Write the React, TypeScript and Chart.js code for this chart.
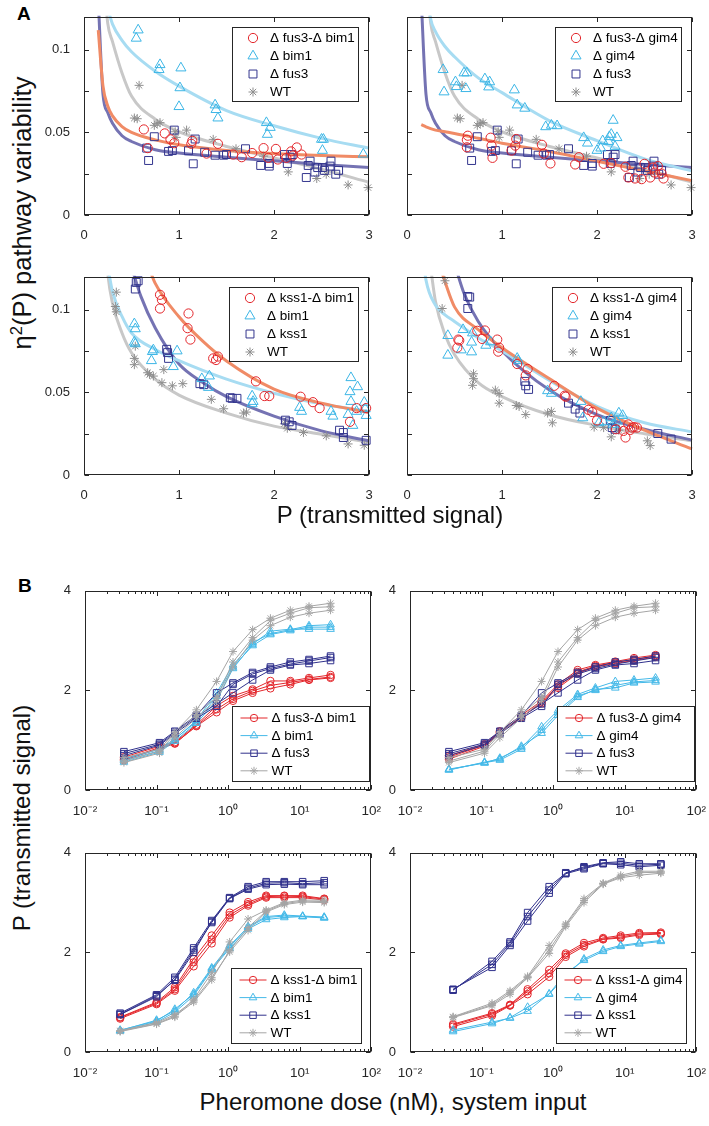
import React, { useEffect, useRef } from "react";
import { Chart, registerables } from "chart.js";

Chart.register(...registerables);

const FONT = '"Liberation Sans", Arial, Helvetica, sans-serif';
const AXIS = "#262626";

// ---------------- Axis ticks / labels ----------------
const A_X_TICKS = [0, 1, 2, 3];
const A_Y_TICKS = [0, 0.025, 0.05, 0.075, 0.1];
const A_Y_TICK_LABELS = ["0", "", "0.05", "", "0.1"];
const B_X_MAJOR = [0.01, 0.1, 1, 10, 100];
const B_X_MAJOR_LABELS = ["10⁻²", "10⁻¹", "10⁰", "10¹", "10²"];
const B_X_MINOR_STEPS = [2, 3, 4, 5, 6, 7, 8, 9];
const B_Y_TICKS = [0, 2, 4];

// ---------------- Legend labels ----------------
const LEG_TL = ["Δ fus3-Δ bim1", "Δ bim1", "Δ fus3", "WT"];
const LEG_TR = ["Δ fus3-Δ gim4", "Δ gim4", "Δ fus3", "WT"];
const LEG_BL = ["Δ kss1-Δ bim1", "Δ bim1", "Δ kss1", "WT"];
const LEG_BR = ["Δ kss1-Δ gim4", "Δ gim4", "Δ kss1", "WT"];

// ---------------- Panel A scatter data ----------------
const A_TL_FB_X = [0.63, 0.67, 0.85, 0.91, 0.95, 1.13, 1.14, 1.29, 1.41, 1.57, 1.66, 1.77, 1.89, 1.94, 2.02, 2.04, 2.13, 2.18, 2.2, 2.24, 2.29];
const A_TL_FB_Y = [0.0518, 0.0405, 0.0494, 0.0458, 0.0435, 0.0431, 0.0449, 0.0372, 0.0431, 0.0366, 0.035, 0.0375, 0.0405, 0.0346, 0.04, 0.0336, 0.0346, 0.0385, 0.036, 0.0409, 0.0366];
const A_TL_B_X = [0.57, 0.55, 0.8, 0.79, 1.02, 1.01, 1.0, 1.38, 1.39, 1.41, 1.92, 1.96, 1.93, 2.5, 2.52, 2.51, 2.94];
const A_TL_B_Y = [0.112, 0.107, 0.091, 0.088, 0.089, 0.077, 0.0656, 0.0666, 0.0638, 0.0587, 0.0559, 0.053, 0.0488, 0.0458, 0.0458, 0.0391, 0.0368];
const A_FUS3_X = [0.66, 0.68, 0.74, 0.89, 0.93, 0.95, 1.1, 1.15, 1.17, 1.27, 1.38, 1.47, 1.5, 1.7, 1.86, 1.95, 1.95, 2.11, 2.14, 2.17, 2.19, 2.34, 2.36, 2.38, 2.43, 2.46, 2.51, 2.53, 2.59, 2.6, 2.65, 2.68];
const A_FUS3_Y = [0.0405, 0.033, 0.0474, 0.0385, 0.039, 0.0514, 0.0389, 0.031, 0.046, 0.038, 0.0362, 0.0362, 0.0366, 0.0401, 0.03, 0.0312, 0.0296, 0.0366, 0.0312, 0.035, 0.0366, 0.0227, 0.03, 0.0326, 0.026, 0.0287, 0.0287, 0.027, 0.0296, 0.0326, 0.0247, 0.027];
const A_WT_TOP_X = [0.58, 0.53, 0.56, 0.74, 0.77, 0.8, 0.96, 0.97, 1.08, 1.36, 1.6, 1.89, 2.15, 2.45, 2.55, 2.78, 2.99];
const A_WT_TOP_Y = [0.0785, 0.0587, 0.0583, 0.0543, 0.0553, 0.0559, 0.0504, 0.047, 0.0514, 0.0458, 0.0401, 0.0356, 0.0261, 0.0221, 0.0247, 0.0182, 0.0166];
const A_TR_FG_X = [0.64, 0.63, 0.63, 0.88, 0.89, 0.9, 1.1, 1.14, 1.15, 1.42, 1.44, 1.51, 1.77, 1.81, 2.07, 2.15, 2.3, 2.33, 2.4, 2.47, 2.5, 2.56, 2.59, 2.61, 2.64, 2.68, 2.7];
const A_TR_FG_Y = [0.048, 0.0455, 0.041, 0.0468, 0.042, 0.0346, 0.039, 0.042, 0.046, 0.0425, 0.0372, 0.0312, 0.0306, 0.035, 0.031, 0.0314, 0.0292, 0.0227, 0.0221, 0.0217, 0.031, 0.0227, 0.0287, 0.0257, 0.0296, 0.0251, 0.0221];
const A_TR_G_X = [0.38, 0.39, 0.51, 0.52, 0.6, 0.63, 0.62, 0.82, 0.87, 0.86, 1.13, 1.16, 1.24, 1.46, 1.52, 1.58, 1.86, 1.9, 2.0, 2.04, 2.06, 2.12, 2.13, 2.15, 2.17, 2.19, 2.21];
const A_TR_G_Y = [0.088, 0.0745, 0.0806, 0.0777, 0.086, 0.086, 0.0765, 0.0824, 0.0806, 0.0775, 0.0757, 0.0666, 0.0646, 0.0534, 0.0543, 0.054, 0.0468, 0.0435, 0.0391, 0.0405, 0.0449, 0.0445, 0.0474, 0.0488, 0.0573, 0.0415, 0.0468];
const A_BL_KB_X = [0.8, 0.82, 0.8, 1.1, 1.09, 1.12, 1.36, 1.39, 1.41, 1.81, 1.9, 1.95, 2.28, 2.41, 2.48, 2.8, 2.87, 2.97];
const A_BL_KB_Y = [0.1091, 0.1061, 0.1008, 0.0978, 0.0889, 0.082, 0.0706, 0.0696, 0.0717, 0.0567, 0.0478, 0.0478, 0.0474, 0.0441, 0.0405, 0.0322, 0.0405, 0.0405];
const A_BL_B_X = [0.53, 0.54, 0.53, 0.54, 0.71, 0.72, 0.73, 0.98, 0.94, 1.24, 1.32, 1.31, 1.77, 1.78, 1.77, 2.27, 2.29, 2.6, 2.62, 2.81, 2.8, 2.81, 2.78, 2.83, 2.87, 2.88, 2.95, 2.96, 2.97];
const A_BL_B_Y = [0.0915, 0.0885, 0.0804, 0.0794, 0.0692, 0.0747, 0.0757, 0.0751, 0.0656, 0.0583, 0.0599, 0.053, 0.0478, 0.0445, 0.0431, 0.0409, 0.0385, 0.0385, 0.0356, 0.0589, 0.0504, 0.0445, 0.0366, 0.03, 0.0385, 0.0534, 0.044, 0.04, 0.036];
const A_BL_K_X = [0.55, 0.57, 0.54, 0.87, 0.88, 0.89, 1.22, 1.26, 1.54, 1.56, 1.61, 2.12, 2.16, 2.19, 2.69, 2.73, 2.73, 2.97];
const A_BL_K_Y = [0.1166, 0.1176, 0.1126, 0.0761, 0.0741, 0.0706, 0.0553, 0.0547, 0.0468, 0.0464, 0.0464, 0.0332, 0.0322, 0.03, 0.0271, 0.0257, 0.0227, 0.021];
const A_BL_WT_X = [0.34, 0.33, 0.34, 0.53, 0.53, 0.54, 0.67, 0.69, 0.73, 0.82, 0.84, 0.93, 1.04, 1.34, 1.47, 1.68, 1.71, 2.11, 2.14, 2.31, 2.55, 2.78, 2.95];
const A_BL_WT_Y = [0.1107, 0.102, 0.0988, 0.0706, 0.0668, 0.078, 0.0619, 0.0609, 0.0599, 0.0559, 0.0638, 0.054, 0.0553, 0.0458, 0.0401, 0.0375, 0.0381, 0.031, 0.0283, 0.0257, 0.0237, 0.0188, 0.018];
const A_BR_KG_X = [0.54, 0.53, 0.55, 0.74, 0.82, 0.79, 0.95, 0.97, 0.96, 1.16, 1.27, 1.25, 1.55, 1.66, 1.67, 1.91, 1.95, 2.0, 2.2, 2.28, 2.3, 2.33, 2.37, 2.39, 2.42, 2.35];
const A_BR_KG_Y = [0.082, 0.0771, 0.0814, 0.0873, 0.0875, 0.0824, 0.082, 0.0771, 0.0747, 0.0672, 0.0642, 0.0603, 0.054, 0.048, 0.0474, 0.0395, 0.0381, 0.033, 0.0277, 0.0267, 0.0227, 0.0306, 0.0287, 0.029, 0.0287, 0.0273];
const A_BR_G_X = [0.43, 0.43, 0.59, 0.57, 0.69, 0.68, 0.68, 0.83, 0.88, 1.16, 1.17, 1.48, 1.52, 1.83, 1.85, 2.02, 2.07, 2.23, 2.27, 2.15, 2.17, 2.21];
const A_BR_G_Y = [0.0844, 0.0725, 0.088, 0.0757, 0.086, 0.0804, 0.0745, 0.0785, 0.0806, 0.0706, 0.0692, 0.051, 0.0494, 0.0445, 0.0346, 0.0316, 0.0322, 0.0375, 0.036, 0.0346, 0.0306, 0.0326];
const A_BR_K_X = [0.64, 0.66, 0.64, 1.24, 1.25, 1.28, 1.7, 1.77, 1.82, 2.14, 2.16, 2.19, 2.64, 2.78];
const A_BR_K_Y = [0.1081, 0.1077, 0.1008, 0.0567, 0.054, 0.0518, 0.0435, 0.0399, 0.0375, 0.033, 0.0287, 0.0277, 0.0251, 0.0217];
const A_BR_WT_X = [0.4, 0.37, 0.7, 0.7, 0.69, 0.93, 0.97, 0.97, 1.15, 1.18, 1.25, 1.48, 1.52, 1.53, 1.97, 2.07, 2.15, 2.23, 2.53, 2.56];
const A_BR_WT_Y = [0.1176, 0.1008, 0.0613, 0.0583, 0.0543, 0.0514, 0.0494, 0.0435, 0.0421, 0.0415, 0.0366, 0.0375, 0.0385, 0.0316, 0.029, 0.0287, 0.0231, 0.0271, 0.0207, 0.0178];

// ---------------- Panel A fitted curves ----------------
const FIT_TL_FB_X = [0.15, 0.2, 0.25, 0.3, 0.4, 0.5, 0.75, 1, 1.5, 2, 2.5, 3];
const FIT_TL_FB_Y = [0.112, 0.078, 0.066, 0.06, 0.0535, 0.05, 0.0455, 0.0425, 0.0391, 0.0372, 0.036, 0.0352];
const FIT_TL_B_X = [0.25, 0.3, 0.4, 0.5, 0.75, 1, 1.5, 2, 2.5, 3];
const FIT_TL_B_Y = [0.125, 0.1156, 0.1057, 0.0988, 0.087, 0.078, 0.0632, 0.054, 0.0464, 0.0405];
const FIT_FUS3_X = [0.15, 0.2, 0.25, 0.3, 0.4, 0.5, 0.75, 1, 1.5, 2, 2.5, 3];
const FIT_FUS3_Y = [0.13, 0.073, 0.062, 0.0555, 0.048, 0.0445, 0.0395, 0.0375, 0.035, 0.0328, 0.0306, 0.0288];
const FIT_WT_TOP_X = [0.2, 0.25, 0.3, 0.4, 0.5, 0.75, 1, 1.5, 2, 2.5, 3];
const FIT_WT_TOP_Y = [0.15, 0.116, 0.105, 0.086, 0.072, 0.058, 0.0504, 0.0415, 0.0346, 0.0277, 0.0198];
const FIT_TR_FG_X = [0.15, 0.2, 0.3, 0.4, 0.5, 0.75, 1, 1.5, 2, 2.5, 3];
const FIT_TR_FG_Y = [0.0547, 0.0534, 0.0514, 0.0504, 0.0494, 0.0465, 0.0435, 0.0385, 0.0326, 0.0267, 0.0208];
const FIT_TR_G_X = [0.2, 0.25, 0.3, 0.4, 0.5, 0.75, 1, 1.5, 2, 2.5, 3];
const FIT_TR_G_Y = [0.14, 0.1185, 0.111, 0.102, 0.0958, 0.083, 0.0741, 0.057, 0.045, 0.034, 0.0267];
const FIT_BL_KB_X = [0.68, 0.75, 1, 1.25, 1.5, 2, 2.5, 3];
const FIT_BL_KB_Y = [0.126, 0.116, 0.0958, 0.081, 0.069, 0.052, 0.0435, 0.0378];
const FIT_BL_B_X = [0.25, 0.3, 0.4, 0.5, 0.75, 1, 1.5, 2, 2.5, 3];
const FIT_BL_B_Y = [0.126, 0.111, 0.096, 0.086, 0.076, 0.0692, 0.058, 0.0495, 0.043, 0.0385];
const FIT_BL_K_X = [0.5, 0.6, 0.75, 1, 1.25, 1.5, 2, 2.5, 3];
const FIT_BL_K_Y = [0.126, 0.108, 0.089, 0.0672, 0.056, 0.0474, 0.0356, 0.0267, 0.0207];
const FIT_BL_WT_X = [0.2, 0.25, 0.3, 0.4, 0.5, 0.75, 1, 1.5, 2, 2.5, 3];
const FIT_BL_WT_Y = [0.16, 0.122, 0.104, 0.086, 0.074, 0.058, 0.0484, 0.0375, 0.0296, 0.0247, 0.0198];
const FIT_BR_KG_X = [0.35, 0.4, 0.5, 0.75, 1, 1.5, 2, 2.5, 3];
const FIT_BR_KG_Y = [0.126, 0.117, 0.1018, 0.088, 0.0771, 0.0583, 0.0405, 0.0271, 0.0158];
const FIT_BR_G_X = [0.15, 0.2, 0.3, 0.4, 0.5, 0.75, 1, 1.5, 2, 2.5, 3];
const FIT_BR_G_Y = [0.14, 0.118, 0.1028, 0.097, 0.093, 0.083, 0.0751, 0.0573, 0.0415, 0.0316, 0.0261];
const FIT_BR_K_X = [0.5, 0.6, 0.75, 1, 1.5, 2, 2.5, 3];
const FIT_BR_K_Y = [0.128, 0.11, 0.0929, 0.0751, 0.0514, 0.0366, 0.0277, 0.0211];
const FIT_BR_WT_X = [0.25, 0.3, 0.4, 0.5, 0.75, 1, 1.5, 2, 2.5, 3];
const FIT_BR_WT_Y = [0.125, 0.105, 0.085, 0.073, 0.056, 0.0475, 0.0365, 0.03, 0.025, 0.0207];

// ---------------- Panel B dose-response data (replicates) ----------------
const DOSE_TOP = [0.035, 0.11, 0.18, 0.36, 0.69, 1.17, 2.2, 3.9, 7.4, 13.5, 27];
const DOSE_BL = [0.031, 0.1, 0.18, 0.33, 0.59, 1.05, 1.9, 3.4, 6.1, 11, 22];
const DOSE_BR = [0.04, 0.14, 0.25, 0.44, 0.88, 1.5, 2.7, 5.0, 8.8, 16, 32];

const B_WT_TOP_1 = [0.65, 0.82, 1.16, 1.61, 2.18, 2.78, 3.22, 3.45, 3.61, 3.69, 3.75];
const B_WT_TOP_2 = [0.58, 0.78, 1.12, 1.52, 1.86, 2.57, 3.06, 3.4, 3.55, 3.66, 3.68];
const B_WT_TOP_3 = [0.55, 0.74, 1.05, 1.45, 1.79, 2.47, 3.01, 3.3, 3.47, 3.55, 3.61];
const B_FUS3_1 = [0.77, 0.95, 1.18, 1.5, 1.95, 2.15, 2.36, 2.47, 2.57, 2.62, 2.69];
const B_FUS3_2 = [0.73, 0.92, 1.16, 1.47, 1.73, 1.95, 2.21, 2.41, 2.51, 2.54, 2.6];
const B_FUS3_3 = [0.69, 0.9, 1.13, 1.44, 1.68, 2.12, 2.33, 2.44, 2.53, 2.59, 2.66];
const B_TL_BIM1_1 = [0.59, 0.79, 1.01, 1.4, 1.95, 2.51, 2.96, 3.14, 3.22, 3.3, 3.32];
const B_TL_BIM1_2 = [0.56, 0.76, 0.98, 1.34, 1.79, 2.44, 2.93, 3.19, 3.23, 3.23, 3.23];
const B_TL_BIM1_3 = [0.62, 0.82, 1.03, 1.37, 1.88, 2.47, 2.9, 3.12, 3.2, 3.27, 3.27];
const B_FB_1 = [0.66, 0.88, 0.96, 1.31, 1.69, 1.89, 2.02, 2.19, 2.19, 2.25, 2.31];
const B_FB_2 = [0.62, 0.85, 0.94, 1.28, 1.56, 1.79, 1.95, 2.04, 2.12, 2.21, 2.25];
const B_FB_3 = [0.6, 0.83, 0.93, 1.29, 1.62, 1.83, 1.99, 2.1, 2.16, 2.22, 2.27];
const B_FG_1 = [0.69, 0.92, 1.18, 1.5, 1.79, 2.12, 2.41, 2.51, 2.58, 2.65, 2.71];
const B_FG_2 = [0.62, 0.88, 1.14, 1.47, 1.74, 2.05, 2.34, 2.47, 2.54, 2.6, 2.67];
const B_FG_3 = [0.66, 0.9, 1.16, 1.45, 1.77, 2.08, 2.37, 2.49, 2.56, 2.62, 2.69];
const B_TR_GIM4_1 = [0.42, 0.54, 0.64, 0.85, 1.27, 1.6, 1.92, 2.05, 2.18, 2.21, 2.25];
const B_TR_GIM4_2 = [0.4, 0.56, 0.62, 0.88, 1.14, 1.5, 1.86, 2.02, 2.05, 2.15, 2.17];
const B_TR_GIM4_3 = [0.41, 0.55, 0.6, 0.82, 1.2, 1.55, 1.89, 2.0, 2.1, 2.17, 2.2];
const B_BL_KSS1_1 = [0.78, 1.15, 1.5, 2.09, 2.64, 3.1, 3.32, 3.42, 3.42, 3.42, 3.44];
const B_BL_KSS1_2 = [0.75, 1.11, 1.46, 2.05, 2.6, 3.08, 3.27, 3.36, 3.37, 3.36, 3.36];
const B_BL_KSS1_3 = [0.76, 1.13, 1.44, 2.0, 2.62, 3.09, 3.29, 3.39, 3.4, 3.38, 3.4];
const B_KB_1 = [0.7, 1.0, 1.3, 1.87, 2.34, 2.8, 3.01, 3.14, 3.14, 3.14, 3.08];
const B_KB_2 = [0.67, 0.96, 1.23, 1.72, 2.18, 2.7, 2.94, 3.1, 3.1, 3.1, 3.05];
const B_KB_3 = [0.69, 0.98, 1.26, 1.8, 2.26, 2.75, 2.97, 3.12, 3.13, 3.12, 3.07];
const B_BL_BIM1_1 = [0.43, 0.64, 0.83, 1.19, 1.69, 2.14, 2.5, 2.7, 2.73, 2.72, 2.7];
const B_BL_BIM1_2 = [0.42, 0.6, 0.8, 1.13, 1.65, 2.08, 2.47, 2.66, 2.7, 2.72, 2.69];
const B_BL_BIM1_3 = [0.44, 0.62, 0.86, 1.16, 1.67, 2.11, 2.52, 2.72, 2.75, 2.73, 2.71];
const B_BL_WT_1 = [0.43, 0.59, 0.75, 1.03, 1.49, 2.01, 2.44, 2.81, 2.96, 3.01, 3.0];
const B_BL_WT_2 = [0.41, 0.56, 0.7, 1.06, 1.59, 2.21, 2.67, 2.85, 3.0, 3.05, 3.05];
const B_BL_WT_3 = [0.42, 0.57, 0.72, 1.0, 1.45, 2.04, 2.5, 2.83, 2.98, 3.03, 3.02];
const B_BR_KSS1_1 = [1.24, 1.82, 2.21, 2.8, 3.32, 3.59, 3.72, 3.8, 3.82, 3.78, 3.78];
const B_BR_KSS1_2 = [1.26, 1.7, 2.14, 2.63, 3.19, 3.58, 3.68, 3.78, 3.76, 3.72, 3.75];
const B_BR_KSS1_3 = [1.25, 1.76, 2.18, 2.72, 3.25, 3.6, 3.7, 3.79, 3.79, 3.75, 3.77];
const B_BR_WT_1 = [0.71, 0.98, 1.23, 1.52, 2.14, 2.57, 3.08, 3.39, 3.55, 3.63, 3.63];
const B_BR_WT_2 = [0.69, 0.93, 1.16, 1.49, 1.98, 2.52, 3.0, 3.37, 3.5, 3.55, 3.59];
const B_BR_WT_3 = [0.7, 0.95, 1.2, 1.5, 2.05, 2.55, 3.04, 3.38, 3.52, 3.6, 3.61];
const B_KG_1 = [0.56, 0.78, 0.95, 1.26, 1.65, 1.98, 2.19, 2.29, 2.34, 2.39, 2.4];
const B_KG_2 = [0.51, 0.73, 0.93, 1.16, 1.51, 1.91, 2.12, 2.26, 2.29, 2.35, 2.37];
const B_KG_3 = [0.54, 0.76, 0.94, 1.22, 1.58, 1.95, 2.15, 2.27, 2.31, 2.37, 2.38];
const B_BR_GIM4_1 = [0.41, 0.57, 0.69, 0.9, 1.16, 1.53, 1.87, 2.05, 2.14, 2.19, 2.24];
const B_BR_GIM4_2 = [0.44, 0.6, 0.68, 0.82, 1.17, 1.58, 1.84, 2.02, 2.12, 2.17, 2.22];

// ---------------- Styles ----------------
type Role = { color: string; line: string; fit: string; style: string; rA: number; rB: number };
const ROLES: Role[] = [
  { color: "#E3262B", line: "#E3262B", fit: "#F08B66", style: "circle", rA: 4.6, rB: 3.7 },
  { color: "#3CB6E6", line: "#45B9E8", fit: "#A7DCF2", style: "triangle", rA: 5.8, rB: 4.4 },
  { color: "#33358E", line: "#30318C", fit: "#7573B3", style: "rect", rA: 5.6, rB: 4.6 },
  { color: "#8E8E8E", line: "#A5A5A5", fit: "#C8C8C8", style: "star", rA: 4.5, rB: 4.0 },
];

const YW = 45; // y axis box width
const XH = 30; // x axis box height
const PT = 10; // top padding
const PR = 14; // right padding

const pts = (xs: number[], ys: number[]) => xs.map((x, i) => ({ x, y: ys[i] }));

function drawMarker(ctx: CanvasRenderingContext2D, style: string, x: number, y: number, r: number, color: string) {
  ctx.save();
  ctx.strokeStyle = color;
  ctx.lineWidth = 1;
  ctx.beginPath();
  if (style === "circle") {
    ctx.arc(x, y, r, 0, Math.PI * 2);
  } else if (style === "triangle") {
    ctx.moveTo(x, y - r);
    ctx.lineTo(x + Math.sin((2 * Math.PI) / 3) * r, y - Math.cos((2 * Math.PI) / 3) * r);
    ctx.lineTo(x + Math.sin((4 * Math.PI) / 3) * r, y - Math.cos((4 * Math.PI) / 3) * r);
    ctx.closePath();
  } else if (style === "rect") {
    const s = Math.SQRT1_2 * r;
    ctx.rect(x - s, y - s, 2 * s, 2 * s);
  } else {
    for (let k = 0; k < 4; k++) {
      const a = (k * Math.PI) / 4;
      ctx.moveTo(x - Math.cos(a) * r, y - Math.sin(a) * r);
      ctx.lineTo(x + Math.cos(a) * r, y + Math.sin(a) * r);
    }
  }
  ctx.stroke();
  ctx.restore();
}

const framePlugin = {
  id: "frame",
  afterDatasetsDraw(chart: any) {
    const { ctx, chartArea: a, scales } = chart;
    const L = Math.round(a.left) + 0.5;
    const R = Math.round(a.right) - 0.5;
    const T = Math.round(a.top) + 0.5;
    const B = Math.round(a.bottom) - 0.5;
    ctx.save();
    ctx.strokeStyle = AXIS;
    ctx.lineWidth = 1;
    ctx.beginPath();
    for (const t of scales.x.ticks) {
      const p = Math.round(scales.x.getPixelForValue(t.value)) + 0.5;
      const len = t.major === false ? 2.5 : 4.5;
      ctx.moveTo(p, B);
      ctx.lineTo(p, B - len);
      ctx.moveTo(p, T);
      ctx.lineTo(p, T + len);
    }
    for (const t of scales.y.ticks) {
      const p = Math.round(scales.y.getPixelForValue(t.value)) + 0.5;
      ctx.moveTo(L, p);
      ctx.lineTo(L + 4.5, p);
      ctx.moveTo(R, p);
      ctx.lineTo(R - 4.5, p);
    }
    ctx.stroke();
    ctx.strokeRect(L, T, R - L, B - T);
    ctx.restore();
  },
};

const legendPlugin = {
  id: "panelLegend",
  afterDraw(chart: any, _args: any, o: any) {
    if (!o || !o.items) return;
    const { ctx, chartArea: a } = chart;
    ctx.save();
    const w = o.width;
    const h = o.height;
    const x0 = Math.round(a.right - o.marginR - w) + 0.5;
    const y0 = o.anchor === "top" ? Math.round(a.top + o.marginT) + 0.5 : Math.round(a.bottom - o.marginB - h) + 0.5;
    ctx.fillStyle = "#ffffff";
    ctx.fillRect(x0, y0, w, h);
    ctx.strokeStyle = AXIS;
    ctx.lineWidth = 1;
    ctx.strokeRect(x0, y0, w, h);
    ctx.font = `13.5px ${FONT}`;
    ctx.textBaseline = "middle";
    o.items.forEach((it: any, i: number) => {
      const cy = y0 + o.firstRow + i * o.rowGap;
      if (o.withLine) {
        ctx.strokeStyle = it.line;
        ctx.beginPath();
        ctx.moveTo(x0 + o.lineStart, cy);
        ctx.lineTo(x0 + o.lineEnd, cy);
        ctx.stroke();
      }
      drawMarker(ctx, it.style, x0 + o.markerX, cy, it.radius, it.color);
      ctx.fillStyle = "#000";
      ctx.fillText(it.label, x0 + o.textX, cy + 0.5);
    });
    ctx.restore();
  },
};

const tickFont = { family: FONT, size: 13 };

function baseOptions(xScale: any, yScale: any, legend: any) {
  return {
    animation: false,
    responsive: false,
    maintainAspectRatio: false,
    devicePixelRatio: 1,
    events: [],
    layout: { padding: { top: PT, right: PR, left: 0, bottom: 0 } },
    plugins: { legend: { display: false }, tooltip: { enabled: false }, panelLegend: legend },
    scales: { x: xScale, y: yScale },
  };
}

type APanel = {
  labels: string[];
  scatter: [number[], number[]][];
  fits: [number[], number[]][];
  showY: boolean;
  legendWidth: number;
};

function makeAConfig(p: APanel) {
  const datasets: any[] = [];
  p.scatter.forEach(([xs, ys], i) => {
    const r = ROLES[i];
    datasets.push({
      type: "scatter",
      data: pts(xs, ys),
      showLine: false,
      pointStyle: r.style,
      pointRadius: r.rA,
      pointBorderColor: r.color,
      pointBackgroundColor: "rgba(0,0,0,0)",
      pointBorderWidth: 1,
      borderColor: r.color,
      backgroundColor: "rgba(0,0,0,0)",
      order: 1 + i,
      clip: false,
    });
  });
  p.fits.forEach(([xs, ys], i) => {
    const r = ROLES[i];
    datasets.push({
      type: "line",
      data: pts(xs, ys),
      borderColor: r.fit,
      borderWidth: 3,
      pointRadius: 0,
      cubicInterpolationMode: "monotone",
      fill: false,
      order: 11 + i,
      clip: 1,
    });
  });
  const xScale = {
    type: "linear",
    min: 0,
    max: 3,
    afterBuildTicks: (s: any) => {
      s.ticks = A_X_TICKS.map((v) => ({ value: v, major: true }));
    },
    afterFit: (s: any) => {
      s.height = XH;
    },
    ticks: { callback: (v: any) => String(v), font: tickFont, color: AXIS, padding: 5, maxRotation: 0, autoSkip: false },
    grid: { display: false },
    border: { display: false },
  };
  const yScale = {
    type: "linear",
    min: 0,
    max: 0.12,
    afterBuildTicks: (s: any) => {
      s.ticks = A_Y_TICKS.map((v) => ({ value: v, major: true }));
    },
    afterFit: (s: any) => {
      s.width = YW;
    },
    ticks: {
      callback: (_v: any, i: number) => (p.showY ? A_Y_TICK_LABELS[i] : ""),
      font: tickFont,
      color: AXIS,
      padding: 6,
      autoSkip: false,
    },
    grid: { display: false },
    border: { display: false },
  };
  const legend = {
    items: p.labels.map((label, i) => ({ label, style: ROLES[i].style, color: ROLES[i].color, radius: ROLES[i].rA })),
    withLine: false,
    width: p.legendWidth,
    height: 74,
    anchor: "top",
    marginT: 10,
    marginR: 11,
    firstRow: 10.5,
    rowGap: 18,
    markerX: 20.5,
    textX: 37.5,
  };
  return { type: "scatter", data: { datasets }, options: baseOptions(xScale, yScale, legend), plugins: [framePlugin, legendPlugin] };
}

type BPanel = {
  labels: string[];
  doses: number[];
  reps: number[][][];
  legendWidth: number;
  legendMarginR: number;
};

function makeBConfig(p: BPanel) {
  const datasets: any[] = [];
  p.reps.forEach((group, i) => {
    const r = ROLES[i];
    group.forEach((ys) => {
      datasets.push({
        type: "line",
        data: pts(p.doses, ys),
        borderColor: r.line,
        borderWidth: 1,
        pointStyle: r.style,
        pointRadius: r.rB,
        pointBorderColor: r.line,
        pointBackgroundColor: "rgba(0,0,0,0)",
        pointBorderWidth: 1,
        tension: 0,
        fill: false,
        order: 4 - i,
        clip: false,
      });
    });
  });
  const xScale = {
    type: "logarithmic",
    min: 0.01,
    max: 100,
    afterBuildTicks: (s: any) => {
      const ticks: any[] = [];
      B_X_MAJOR.forEach((m, k) => {
        ticks.push({ value: m, major: true });
        if (k < B_X_MAJOR.length - 1) B_X_MINOR_STEPS.forEach((st) => ticks.push({ value: m * st, major: false }));
      });
      s.ticks = ticks;
    },
    afterFit: (s: any) => {
      s.height = XH;
    },
    ticks: {
      callback: (v: any) => {
        const k = B_X_MAJOR.findIndex((m) => Math.abs(m - v) / m < 1e-6);
        return k >= 0 ? B_X_MAJOR_LABELS[k] : "";
      },
      font: { family: FONT, size: 13.5 },
      color: AXIS,
      padding: 5,
      maxRotation: 0,
      minRotation: 0,
      autoSkip: false,
    },
    grid: { display: false },
    border: { display: false },
  };
  const yScale = {
    type: "linear",
    min: 0,
    max: 4,
    afterBuildTicks: (s: any) => {
      s.ticks = B_Y_TICKS.map((v) => ({ value: v, major: true }));
    },
    afterFit: (s: any) => {
      s.width = YW;
    },
    ticks: { callback: (v: any) => String(v), font: tickFont, color: AXIS, padding: 6, autoSkip: false },
    grid: { display: false },
    border: { display: false },
  };
  const legend = {
    items: p.labels.map((label, i) => ({ label, style: ROLES[i].style, color: ROLES[i].line, line: ROLES[i].line, radius: ROLES[i].rB })),
    withLine: true,
    width: p.legendWidth,
    height: 75,
    anchor: "bottom",
    marginB: 9,
    marginR: p.legendMarginR,
    firstRow: 11.5,
    rowGap: 17.6,
    lineStart: 8,
    lineEnd: 35,
    markerX: 21.5,
    textX: 39,
  };
  return { type: "line", data: { datasets }, options: baseOptions(xScale, yScale, legend), plugins: [framePlugin, legendPlugin] };
}

function ChartPanel(props: { left: number; top: number; w: number; h: number; make: () => any }) {
  const ref = useRef<HTMLCanvasElement>(null);
  const width = YW + props.w + PR;
  const height = PT + props.h + XH;
  useEffect(() => {
    const chart = new Chart(ref.current as HTMLCanvasElement, props.make());
    return () => chart.destroy();
  }, []);
  return (
    <canvas
      ref={ref}
      width={width}
      height={height}
      style={{ position: "absolute", left: props.left - YW, top: props.top - PT, width, height }}
    />
  );
}

const PANELS = [
  {
    left: 84, top: 13, w: 285, h: 202,
    make: () =>
      makeAConfig({
        labels: LEG_TL,
        scatter: [[A_TL_FB_X, A_TL_FB_Y], [A_TL_B_X, A_TL_B_Y], [A_FUS3_X, A_FUS3_Y], [A_WT_TOP_X, A_WT_TOP_Y]],
        fits: [[FIT_TL_FB_X, FIT_TL_FB_Y], [FIT_TL_B_X, FIT_TL_B_Y], [FIT_FUS3_X, FIT_FUS3_Y], [FIT_WT_TOP_X, FIT_WT_TOP_Y]],
        showY: true,
        legendWidth: 126,
      }),
  },
  {
    left: 407, top: 13, w: 285, h: 202,
    make: () =>
      makeAConfig({
        labels: LEG_TR,
        scatter: [[A_TR_FG_X, A_TR_FG_Y], [A_TR_G_X, A_TR_G_Y], [A_FUS3_X, A_FUS3_Y], [A_WT_TOP_X, A_WT_TOP_Y]],
        fits: [[FIT_TR_FG_X, FIT_TR_FG_Y], [FIT_TR_G_X, FIT_TR_G_Y], [FIT_FUS3_X, FIT_FUS3_Y], [FIT_WT_TOP_X, FIT_WT_TOP_Y]],
        showY: false,
        legendWidth: 126,
      }),
  },
  {
    left: 84, top: 273, w: 285, h: 202,
    make: () =>
      makeAConfig({
        labels: LEG_BL,
        scatter: [[A_BL_KB_X, A_BL_KB_Y], [A_BL_B_X, A_BL_B_Y], [A_BL_K_X, A_BL_K_Y], [A_BL_WT_X, A_BL_WT_Y]],
        fits: [[FIT_BL_KB_X, FIT_BL_KB_Y], [FIT_BL_B_X, FIT_BL_B_Y], [FIT_BL_K_X, FIT_BL_K_Y], [FIT_BL_WT_X, FIT_BL_WT_Y]],
        showY: true,
        legendWidth: 129,
      }),
  },
  {
    left: 407, top: 273, w: 285, h: 202,
    make: () =>
      makeAConfig({
        labels: LEG_BR,
        scatter: [[A_BR_KG_X, A_BR_KG_Y], [A_BR_G_X, A_BR_G_Y], [A_BR_K_X, A_BR_K_Y], [A_BR_WT_X, A_BR_WT_Y]],
        fits: [[FIT_BR_KG_X, FIT_BR_KG_Y], [FIT_BR_G_X, FIT_BR_G_Y], [FIT_BR_K_X, FIT_BR_K_Y], [FIT_BR_WT_X, FIT_BR_WT_Y]],
        showY: false,
        legendWidth: 129,
      }),
  },
  {
    left: 85, top: 587, w: 287, h: 203,
    make: () =>
      makeBConfig({
        labels: LEG_TL,
        doses: DOSE_TOP,
        reps: [
          [B_FB_1, B_FB_2, B_FB_3],
          [B_TL_BIM1_1, B_TL_BIM1_2, B_TL_BIM1_3],
          [B_FUS3_1, B_FUS3_2, B_FUS3_3],
          [B_WT_TOP_1, B_WT_TOP_2, B_WT_TOP_3],
        ],
        legendWidth: 137,
        legendMarginR: 2,
      }),
  },
  {
    left: 410, top: 587, w: 287, h: 203,
    make: () =>
      makeBConfig({
        labels: LEG_TR,
        doses: DOSE_TOP,
        reps: [
          [B_FG_1, B_FG_2, B_FG_3],
          [B_TR_GIM4_1, B_TR_GIM4_2, B_TR_GIM4_3],
          [B_FUS3_1, B_FUS3_2, B_FUS3_3],
          [B_WT_TOP_1, B_WT_TOP_2, B_WT_TOP_3],
        ],
        legendWidth: 137,
        legendMarginR: 2,
      }),
  },
  {
    left: 85, top: 849, w: 287, h: 203,
    make: () =>
      makeBConfig({
        labels: LEG_BL,
        doses: DOSE_BL,
        reps: [
          [B_KB_1, B_KB_2, B_KB_3],
          [B_BL_BIM1_1, B_BL_BIM1_2, B_BL_BIM1_3],
          [B_BL_KSS1_1, B_BL_KSS1_2, B_BL_KSS1_3],
          [B_BL_WT_1, B_BL_WT_2, B_BL_WT_3],
        ],
        legendWidth: 130,
        legendMarginR: 10,
      }),
  },
  {
    left: 410, top: 849, w: 287, h: 203,
    make: () =>
      makeBConfig({
        labels: LEG_BR,
        doses: DOSE_BR,
        reps: [
          [B_KG_1, B_KG_2, B_KG_3],
          [B_BR_GIM4_1, B_BR_GIM4_2],
          [B_BR_KSS1_1, B_BR_KSS1_2, B_BR_KSS1_3],
          [B_BR_WT_1, B_BR_WT_2, B_BR_WT_3],
        ],
        legendWidth: 130,
        legendMarginR: 10,
      }),
  },
];

const titleStyle: React.CSSProperties = {
  position: "absolute",
  fontFamily: FONT,
  fontSize: 24,
  lineHeight: "28px",
  color: "#111",
  whiteSpace: "nowrap",
};

function Rotated(props: { cx: number; cy: number; size?: number; children: React.ReactNode }) {
  return (
    <div
      style={{
        ...titleStyle,
        fontSize: props.size || 24,
        left: props.cx,
        top: props.cy,
        transform: "translate(-50%, -50%) rotate(-90deg)",
      }}
    >
      {props.children}
    </div>
  );
}

function Centered(props: { cx: number; cy: number; children: React.ReactNode }) {
  return <div style={{ ...titleStyle, left: props.cx, top: props.cy, transform: "translate(-50%, -50%)" }}>{props.children}</div>;
}

export default function App() {
  return (
    <div style={{ position: "absolute", left: 0, top: 0, width: 709, height: 1126, overflow: "hidden", background: "#fff" }}>
      {PANELS.map((p, i) => (
        <ChartPanel key={i} left={p.left} top={p.top} w={p.w} h={p.h} make={p.make} />
      ))}
      <div style={{ position: "absolute", left: 17, top: 4, fontFamily: FONT, fontWeight: "bold", fontSize: 19, lineHeight: "19px" }}>A</div>
      <div style={{ position: "absolute", left: 18, top: 576, fontFamily: FONT, fontWeight: "bold", fontSize: 19, lineHeight: "19px" }}>B</div>
      <Rotated cx={22} cy={213} size={25.5}>
        η<sup style={{ fontSize: "65%", lineHeight: 0 }}>2</sup>(P) pathway variability
      </Rotated>
      <Centered cx={390} cy={515}>P (transmitted signal)</Centered>
      <Rotated cx={22} cy={818}>P (transmitted signal)</Rotated>
      <Centered cx={393} cy={1102}>Pheromone dose (nM), system input</Centered>
    </div>
  );
}
